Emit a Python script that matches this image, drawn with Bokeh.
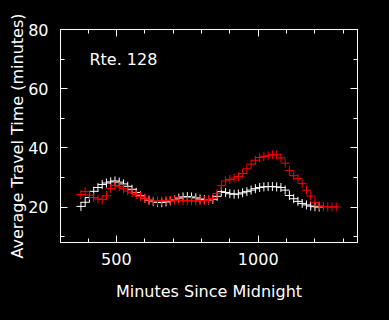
from bokeh.plotting import figure
from bokeh.models import LinearAxis, SingleIntervalTicker, Range1d, Label, CustomLabelingPolicy
from bokeh.embed import file_html
from bokeh.resources import INLINE

# Minutes since midnight (15-minute steps)
white_x = [375, 390, 405, 420, 435, 450, 465, 480, 495, 510, 525, 540, 555, 570, 585,
           600, 615, 630, 645, 660, 675, 690, 705, 720, 735, 750, 765, 780, 795, 810,
           825, 840, 855, 870, 885, 900, 915, 930, 945, 960, 975, 990, 1005, 1020, 1035,
           1050, 1065, 1080, 1095, 1110, 1125, 1140, 1155, 1170, 1185, 1200, 1215]
white_y = [20.2, 21.6, 23.2, 25.3, 26.6, 27.6, 28.1, 28.5, 28.8, 28.4, 27.8, 27.0, 26.0, 24.9, 23.8,
           22.9, 22.3, 21.8, 21.6, 21.5, 21.7, 22.1, 22.5, 23.0, 23.4, 23.5, 23.4, 23.1, 22.7, 22.5,
           22.4, 22.6, 23.6, 25.2, 24.9, 24.5, 24.3, 24.4, 24.8, 25.2, 25.7, 26.2, 26.6, 26.8, 26.9,
           26.9, 26.8, 26.6, 25.7, 23.9, 22.8, 21.9, 21.2, 20.7, 20.3, 20.1, 20.0]

red_x = [375, 390, 405, 420, 435, 450, 465, 480, 495, 510, 525, 540, 555, 570, 585,
         600, 615, 630, 645, 660, 675, 690, 705, 720, 735, 750, 765, 780, 795, 810,
         825, 840, 855, 870, 885, 900, 915, 930, 945, 960, 975, 990, 1005, 1020, 1035,
         1050, 1065, 1080, 1095, 1110, 1125, 1140, 1155, 1170, 1185, 1200, 1215, 1230,
         1245, 1260, 1275]
red_y = [24.2, 25.2, 24.0, 23.2, 22.7, 22.5, 23.8, 26.3, 27.3, 27.0, 26.2, 25.4, 24.8, 24.2, 23.6,
         22.9, 22.4, 22.0, 22.0, 22.1, 22.2, 22.3, 22.4, 22.3, 22.1, 22.1, 22.1, 22.0, 22.1, 22.2,
         22.5, 22.9, 24.6, 27.2, 28.8, 29.3, 29.8, 30.3, 31.3, 32.9, 34.5, 35.8, 36.7, 37.1, 37.3,
         37.7, 37.6, 36.6, 34.8, 32.3, 30.6, 29.6, 27.9, 25.7, 23.7, 21.6, 20.4, 20.1,
         20.0, 20.0, 20.0]

FONT = "DejaVu Sans"
FS = "16px"

p = figure(width=389, height=320, x_range=Range1d(303, 1350), y_range=Range1d(8, 80),
           output_backend="svg", toolbar_location=None,
           x_axis_label="Minutes Since Midnight", y_axis_label="Average Travel Time (minutes)",
           min_border_left=60, min_border_right=32, min_border_top=29, min_border_bottom=78)

p.background_fill_color = "black"
p.border_fill_color = "black"
p.outline_line_color = "white"
p.outline_line_width = 1
p.xgrid.visible = False
p.ygrid.visible = False

p.add_layout(LinearAxis(), "above")
p.add_layout(LinearAxis(), "right")

for ax in p.xaxis:
    ax.ticker = SingleIntervalTicker(interval=500, num_minor_ticks=5)
for ax in p.yaxis:
    ax.ticker = SingleIntervalTicker(interval=20, num_minor_ticks=2)

for ax in p.axis:
    ax.axis_line_color = "white"
    ax.major_tick_line_color = "white"
    ax.minor_tick_line_color = "white"
    ax.major_tick_in = 7
    ax.major_tick_out = 0
    ax.minor_tick_in = 4
    ax.minor_tick_out = 0
    ax.major_label_text_color = "white"
    ax.major_label_text_font = FONT
    ax.major_label_text_font_size = FS
    ax.axis_label_text_color = "white"
    ax.axis_label_text_font = FONT
    ax.axis_label_text_font_size = FS
    ax.axis_label_text_font_style = "normal"

hide = CustomLabelingPolicy(code="return new Set()")
p.above[0].major_label_policy = hide
p.right[0].major_label_policy = hide
p.below[0].major_label_standoff = 10
p.below[0].axis_label_standoff = 14
p.left[0].major_label_standoff = 12
p.left[0].axis_label_standoff = -2

p.scatter(white_x, white_y, marker="cross", size=9, line_color="white", line_width=1)
p.scatter(red_x, red_y, marker="cross", size=9, line_color="red", line_width=1)

p.add_layout(Label(x=405, y=69.7, text="Rte. 128", text_color="white",
                   text_font=FONT, text_font_size=FS, text_baseline="alphabetic"))

html = file_html(p, INLINE)
html = html.replace("</head>", "<style>html,body{background:#000;}</style></head>", 1)
open("out.html", "w").write(html)
